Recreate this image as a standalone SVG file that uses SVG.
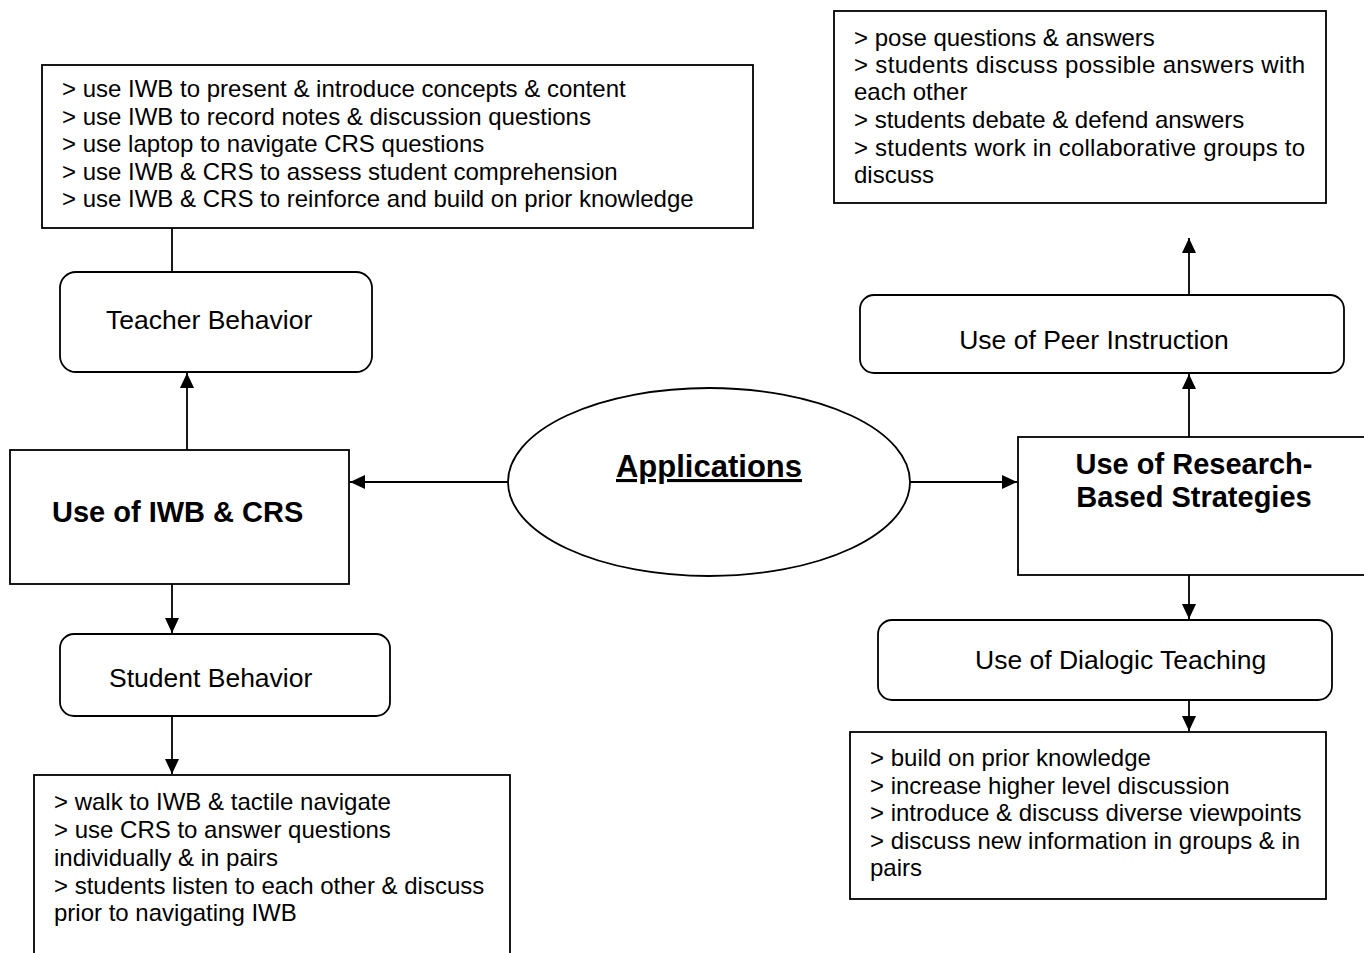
<svg xmlns="http://www.w3.org/2000/svg" width="1364" height="953" viewBox="0 0 1364 953">
<style>
.box{fill:#fff;stroke:#000;stroke-width:1.8}
.t{font-family:"Liberation Sans",Arial,sans-serif;font-size:24px;fill:#000}
.n{font-family:"Liberation Sans",Arial,sans-serif;font-size:26.5px;fill:#000}
.b{font-family:"Liberation Sans",Arial,sans-serif;font-size:29px;font-weight:bold;fill:#000}
.c{stroke:#000;stroke-width:1.8;fill:none}
</style>
<defs>
<marker id="ah" viewBox="0 0 15 14" refX="15" refY="7" markerWidth="15" markerHeight="14" markerUnits="userSpaceOnUse" orient="auto">
<path d="M0,0 L15,7 L0,14 Z" fill="#000"/>
</marker>
</defs>
<rect width="1364" height="953" fill="#fff"/>

<g id="connectors">
<line class="c" x1="172" y1="228" x2="172" y2="272"/>
<line class="c" x1="187" y1="450" x2="187" y2="373" marker-end="url(#ah)"/>
<line class="c" x1="508" y1="482" x2="350" y2="482" marker-end="url(#ah)"/>
<line class="c" x1="172" y1="584" x2="172" y2="633" marker-end="url(#ah)"/>
<line class="c" x1="172" y1="716" x2="172" y2="774" marker-end="url(#ah)"/>
<line class="c" x1="910" y1="482" x2="1017" y2="482" marker-end="url(#ah)"/>
<line class="c" x1="1189" y1="437" x2="1189" y2="374" marker-end="url(#ah)"/>
<line class="c" x1="1189" y1="295" x2="1189" y2="238" marker-end="url(#ah)"/>
<line class="c" x1="1189" y1="575" x2="1189" y2="619" marker-end="url(#ah)"/>
<line class="c" x1="1189" y1="700" x2="1189" y2="731" marker-end="url(#ah)"/>
</g>

<g id="teacher-list">
<rect class="box" x="42" y="65" width="711" height="163"/>
<text class="t" x="62" y="97">&gt; use IWB to present &amp; introduce concepts &amp; content</text>
<text class="t" x="62" y="125">&gt; use IWB to record notes &amp; discussion questions</text>
<text class="t" x="62" y="152">&gt; use laptop to navigate CRS questions</text>
<text class="t" x="62" y="180">&gt; use IWB &amp; CRS to assess student comprehension</text>
<text class="t" x="62" y="207">&gt; use IWB &amp; CRS to reinforce and build on prior knowledge</text>
</g>

<g id="teacher-behavior">
<rect class="box" x="60" y="272" width="312" height="100" rx="16"/>
<text class="n" x="106" y="329">Teacher Behavior</text>
</g>

<g id="use-iwb-crs">
<rect class="box" x="10" y="450" width="339" height="134"/>
<text class="b" x="52" y="522">Use of IWB &amp; CRS</text>
</g>

<g id="student-behavior">
<rect class="box" x="60" y="634" width="330" height="82" rx="14"/>
<text class="n" x="109" y="687">Student Behavior</text>
</g>

<g id="student-list">
<rect class="box" x="34" y="775" width="476" height="190"/>
<text class="t" x="54" y="810">&gt; walk to IWB &amp; tactile navigate</text>
<text class="t" x="54" y="838">&gt; use CRS to answer questions</text>
<text class="t" x="54" y="866">individually &amp; in pairs</text>
<text class="t" x="54" y="894">&gt; students listen to each other &amp; discuss</text>
<text class="t" x="54" y="921">prior to navigating IWB</text>
</g>

<g id="applications">
<ellipse class="box" cx="709" cy="482" rx="201" ry="94"/>
<text class="b" x="709" y="477" text-anchor="middle" style="font-size:31px;text-decoration:underline">Applications</text>
</g>

<g id="research-strategies">
<rect class="box" x="1018" y="437" width="360" height="138"/>
<text class="b" x="1194" y="474" text-anchor="middle">Use of Research-</text>
<text class="b" x="1194" y="507" text-anchor="middle">Based Strategies</text>
</g>

<g id="peer-instruction">
<rect class="box" x="860" y="295" width="484" height="78" rx="14"/>
<text class="n" x="1094" y="349" text-anchor="middle">Use of Peer Instruction</text>
</g>

<g id="peer-list">
<rect class="box" x="834" y="11" width="492" height="192"/>
<text class="t" x="854" y="46">&gt; pose questions &amp; answers</text>
<text class="t" x="854" y="73" textLength="451" lengthAdjust="spacing">&gt; students discuss possible answers with</text>
<text class="t" x="854" y="100">each other</text>
<text class="t" x="854" y="128">&gt; students debate &amp; defend answers</text>
<text class="t" x="854" y="156" textLength="451" lengthAdjust="spacing">&gt; students work in collaborative groups to</text>
<text class="t" x="854" y="183">discuss</text>
</g>

<g id="dialogic-teaching">
<rect class="box" x="878" y="620" width="454" height="80" rx="14"/>
<text class="n" x="975" y="669">Use of Dialogic Teaching</text>
</g>

<g id="dialogic-list">
<rect class="box" x="850" y="732" width="476" height="167"/>
<text class="t" x="870" y="766">&gt; build on prior knowledge</text>
<text class="t" x="870" y="794">&gt; increase higher level discussion</text>
<text class="t" x="870" y="821">&gt; introduce &amp; discuss diverse viewpoints</text>
<text class="t" x="870" y="849">&gt; discuss new information in groups &amp; in</text>
<text class="t" x="870" y="876">pairs</text>
</g>
</svg>
